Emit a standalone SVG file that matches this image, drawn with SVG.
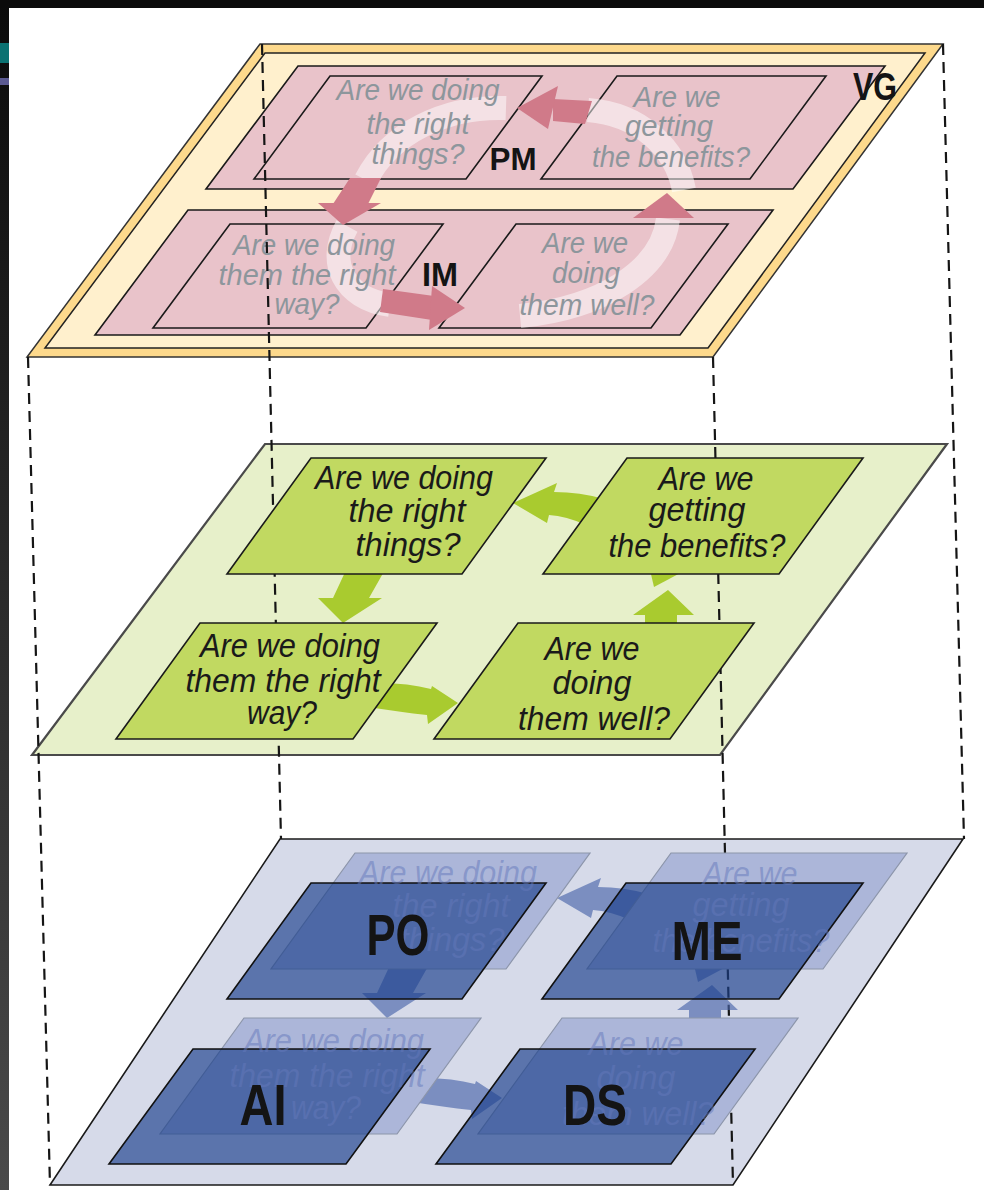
<svg xmlns="http://www.w3.org/2000/svg" xmlns:xlink="http://www.w3.org/1999/xlink" width="984" height="1190" viewBox="0 0 984 1190">
<defs>
<linearGradient id="strip" x1="0" y1="0" x2="0" y2="1">
<stop offset="0" stop-color="#0b0b0b"/>
<stop offset="1" stop-color="#4a4a4a"/>
</linearGradient>
<style>
.q{font-family:"Liberation Sans Narrow","Liberation Sans",Arial,sans-serif;font-style:italic;text-anchor:middle}
.qt{font-size:30px;fill:#8d969c}
.qg{font-size:33px;fill:#1a1a1a}
.qb{font-size:33px;fill:#6478bb;fill-opacity:0.5}
.lbl{font-family:"Liberation Sans Narrow","Liberation Sans",Arial,sans-serif;font-weight:bold;fill:#141414;text-anchor:middle}
.pink{fill:#e9c3ca;stroke:#1a1a1a;stroke-width:1.6}
.green{fill:#c1d961;stroke:#1a1a1a;stroke-width:1.6}
.ghost{fill:#acb6d9;stroke:#8c95aa;stroke-width:1.2}
.dark{fill:#1c3f8c;fill-opacity:0.66;stroke:#111;stroke-width:1.6}
.dash{stroke:#151515;stroke-width:2.2;stroke-dasharray:11 7;fill:none}
.tail{fill:none;stroke:#ffffff;stroke-opacity:0.5;stroke-width:24}
.parr{fill:#d07a89}
</style>
<path id="b1" d="M311,458 L546,458 L462,574 L227,574 Z"/>
<path id="b2" d="M627,458 L863,458 L779,574 L543,574 Z"/>
<path id="b3" d="M200,623 L437,623 L353,739 L116,739 Z"/>
<path id="b4" d="M518,623 L754,623 L670,739 L434,739 Z"/>
<g id="arrset">
<path d="M513,503 L557,483 L554,492 Q580,492 604,499 L586,525 Q566,516 549,515 L547,523 Z"/>
<path d="M347,568 L386,568 L369,598 L382,598 L343,623 L318,598 L333,598 Z"/>
<path d="M372,683 Q405,682 431,689 L432,686 L458,703 L428,724 L427,715 Q400,712 368,707 Z"/>
<path d="M668,590 L694,615 L677,615 L677,628 L645,628 L645,615 L633,615 Z"/>
<path d="M650,570 L686,570 L654,587 Z"/>
</g>
</defs>

<rect x="0" y="0" width="984" height="1190" fill="#ffffff"/>
<g id="frame">
<rect x="0" y="0" width="9" height="1190" fill="url(#strip)"/>
<rect x="0" y="0" width="984" height="8" fill="#0b0b0b"/>
<rect x="0" y="43" width="9" height="20" fill="#0b7272"/>
<rect x="0" y="78" width="9" height="7" fill="#5b5a92"/>
</g>

<!-- Top plane: VG -->
<g id="vg-plane">
<polygon points="260,44 943,44 713,357 27,357" fill="#fdd98c" stroke="#333" stroke-width="1.5"/>
<polygon points="265,53 925,53 708,348 45,348" fill="#fff0cd" stroke="#222" stroke-width="1.5"/>
</g>
<g id="pm">
<polygon class="pink" points="298,66 885,66 793,189 206,189"/>
</g>
<g id="im">
<polygon class="pink" points="188,210 773,210 680,335 95,335"/>
</g>
<g id="top-q1">
<polygon class="pink" points="330,76 542,76 466,179 254,179"/>
</g>
<g id="top-q2">
<polygon class="pink" points="617,76 826,76 750,179 541,179"/>
</g>
<g id="top-q3">
<polygon class="pink" points="230,224 443,224 366,328 153,328"/>
</g>
<g id="top-q4">
<polygon class="pink" points="516,224 728,224 651,328 439,328"/>
</g>
<g id="top-cycle">
<path class="tail" d="M684,190 C676,148 640,114 588,110"/>
<path class="tail" d="M506,108 C445,106 390,133 366,180"/>
<path class="tail" d="M347,226 C327,262 343,298 390,305"/>
<path class="tail" d="M668,219 C662,270 602,308 520,316"/>
<polygon class="parr" points="592,101 553,99 553,121 585,124"/>
<polygon class="parr" points="517,108 558,86 548,129"/>
<polygon class="parr" points="350,178 381,178 368,204 333,204"/>
<polygon class="parr" points="318,203 381,203 343,225"/>
<polygon class="parr" points="383,289 434,296 432,320 380,312"/>
<polygon class="parr" points="465,308 432,286 429,330"/>
<polygon class="parr" points="667,193 694,218 633,218"/>
</g>
<g id="top-texts">
<text class="q qt" x="418" y="100" textLength="163" lengthAdjust="spacingAndGlyphs">Are we doing</text>
<text class="q qt" x="418" y="134" textLength="103" lengthAdjust="spacingAndGlyphs">the right</text>
<text class="q qt" x="418" y="164" textLength="93" lengthAdjust="spacingAndGlyphs">things?</text>
<text class="q qt" x="677" y="107" textLength="87" lengthAdjust="spacingAndGlyphs">Are we</text>
<text class="q qt" x="669" y="136" textLength="88" lengthAdjust="spacingAndGlyphs">getting</text>
<text class="q qt" x="671" y="167" textLength="158" lengthAdjust="spacingAndGlyphs">the benefits?</text>
<text class="q qt" x="314" y="255" textLength="162" lengthAdjust="spacingAndGlyphs">Are we doing</text>
<text class="q qt" x="307" y="285" textLength="177" lengthAdjust="spacingAndGlyphs">them the right</text>
<text class="q qt" x="307" y="314" textLength="65" lengthAdjust="spacingAndGlyphs">way?</text>
<text class="q qt" x="585" y="253" textLength="86" lengthAdjust="spacingAndGlyphs">Are we</text>
<text class="q qt" x="586" y="283" textLength="68" lengthAdjust="spacingAndGlyphs">doing</text>
<text class="q qt" x="587" y="315" textLength="135" lengthAdjust="spacingAndGlyphs">them well?</text>
</g>
<g id="top-labels">
<text class="lbl" x="875" y="100" font-size="38" textLength="44" lengthAdjust="spacingAndGlyphs">VG</text>
<text class="lbl" x="513" y="170" font-size="32" textLength="47" lengthAdjust="spacingAndGlyphs">PM</text>
<text class="lbl" x="440" y="286" font-size="34" textLength="36" lengthAdjust="spacingAndGlyphs">IM</text>
</g>

<!-- Middle and bottom plane backgrounds -->
<g id="mid-plane">
<polygon points="265,444 947,444 720,755 32,755" fill="#e7f0ca" stroke="#4a4a4a" stroke-width="2.2"/>
</g>
<g id="bottom-plane">
<polygon points="280,839 963,839 733,1185 50,1185" fill="#d6dae9" stroke="#1a1a1a" stroke-width="1.6"/>
</g>

<!-- Connectors -->
<g id="connectors">
<path class="dash" d="M262,44 L281,839"/>
<path class="dash" d="M28,357 L50,1185"/>
<path class="dash" d="M943,44 L964,839"/>
<path class="dash" d="M713,357 L733,1185"/>
</g>

<!-- Middle plane contents -->
<g id="mid-arrows" fill="#a9cb2f">
<use xlink:href="#arrset" href="#arrset"/>
</g>
<g id="mid-q1">
<use xlink:href="#b1" href="#b1" class="green"/>
<text class="q qg" x="404" y="489" textLength="178" lengthAdjust="spacingAndGlyphs">Are we doing</text>
<text class="q qg" x="407" y="522" textLength="117" lengthAdjust="spacingAndGlyphs">the right</text>
<text class="q qg" x="408" y="556" textLength="105" lengthAdjust="spacingAndGlyphs">things?</text>
</g>
<g id="mid-q2">
<use xlink:href="#b2" href="#b2" class="green"/>
<text class="q qg" x="706" y="490" textLength="95" lengthAdjust="spacingAndGlyphs">Are we</text>
<text class="q qg" x="697" y="521" textLength="97" lengthAdjust="spacingAndGlyphs">getting</text>
<text class="q qg" x="697" y="557" textLength="177" lengthAdjust="spacingAndGlyphs">the benefits?</text>
</g>
<g id="mid-q3">
<use xlink:href="#b3" href="#b3" class="green"/>
<text class="q qg" x="290" y="657" textLength="180" lengthAdjust="spacingAndGlyphs">Are we doing</text>
<text class="q qg" x="283" y="692" textLength="195" lengthAdjust="spacingAndGlyphs">them the right</text>
<text class="q qg" x="282" y="724" textLength="70" lengthAdjust="spacingAndGlyphs">way?</text>
</g>
<g id="mid-q4">
<use xlink:href="#b4" href="#b4" class="green"/>
<text class="q qg" x="592" y="660" textLength="95" lengthAdjust="spacingAndGlyphs">Are we</text>
<text class="q qg" x="592" y="694" textLength="79" lengthAdjust="spacingAndGlyphs">doing</text>
<text class="q qg" x="594" y="730" textLength="152" lengthAdjust="spacingAndGlyphs">them well?</text>
</g>

<!-- Bottom plane contents -->
<g id="bottom-arrows" fill="#4a66ab" fill-opacity="0.65" transform="translate(44,395)">
<use xlink:href="#arrset" href="#arrset"/>
</g>
<g id="ghost-boxes" transform="translate(44,395)">
<use xlink:href="#b1" href="#b1" class="ghost"/>
<use xlink:href="#b2" href="#b2" class="ghost"/>
<use xlink:href="#b3" href="#b3" class="ghost"/>
<use xlink:href="#b4" href="#b4" class="ghost"/>
</g>
<g id="po"><polygon class="dark" points="311,883 546,883 462,999 227,999"/></g>
<g id="me"><polygon class="dark" points="626,883 863,883 779,999 542,999"/></g>
<g id="ai"><polygon class="dark" points="193,1049 430,1049 346,1164 109,1164"/></g>
<g id="ds"><polygon class="dark" points="520,1049 755,1049 671,1164 436,1164"/></g>
<g id="ghost-texts" transform="translate(44,395)">
<text class="q qb" x="404" y="489" textLength="178" lengthAdjust="spacingAndGlyphs">Are we doing</text>
<text class="q qb" x="407" y="522" textLength="117" lengthAdjust="spacingAndGlyphs">the right</text>
<text class="q qb" x="408" y="556" textLength="105" lengthAdjust="spacingAndGlyphs">things?</text>
<text class="q qb" x="706" y="490" textLength="95" lengthAdjust="spacingAndGlyphs">Are we</text>
<text class="q qb" x="697" y="521" textLength="97" lengthAdjust="spacingAndGlyphs">getting</text>
<text class="q qb" x="697" y="557" textLength="177" lengthAdjust="spacingAndGlyphs">the benefits?</text>
<text class="q qb" x="290" y="657" textLength="180" lengthAdjust="spacingAndGlyphs">Are we doing</text>
<text class="q qb" x="283" y="692" textLength="195" lengthAdjust="spacingAndGlyphs">them the right</text>
<text class="q qb" x="282" y="724" textLength="70" lengthAdjust="spacingAndGlyphs">way?</text>
<text class="q qb" x="592" y="660" textLength="95" lengthAdjust="spacingAndGlyphs">Are we</text>
<text class="q qb" x="592" y="694" textLength="79" lengthAdjust="spacingAndGlyphs">doing</text>
<text class="q qb" x="594" y="730" textLength="152" lengthAdjust="spacingAndGlyphs">them well?</text>
</g>
<g id="bottom-labels">
<text class="lbl" x="398" y="955" font-size="58" textLength="63" lengthAdjust="spacingAndGlyphs">PO</text>
<text class="lbl" x="707" y="960" font-size="56" textLength="71" lengthAdjust="spacingAndGlyphs">ME</text>
<text class="lbl" x="263" y="1125" font-size="58" textLength="47" lengthAdjust="spacingAndGlyphs">AI</text>
<text class="lbl" x="595" y="1125" font-size="58" textLength="64" lengthAdjust="spacingAndGlyphs">DS</text>
</g>
</svg>
